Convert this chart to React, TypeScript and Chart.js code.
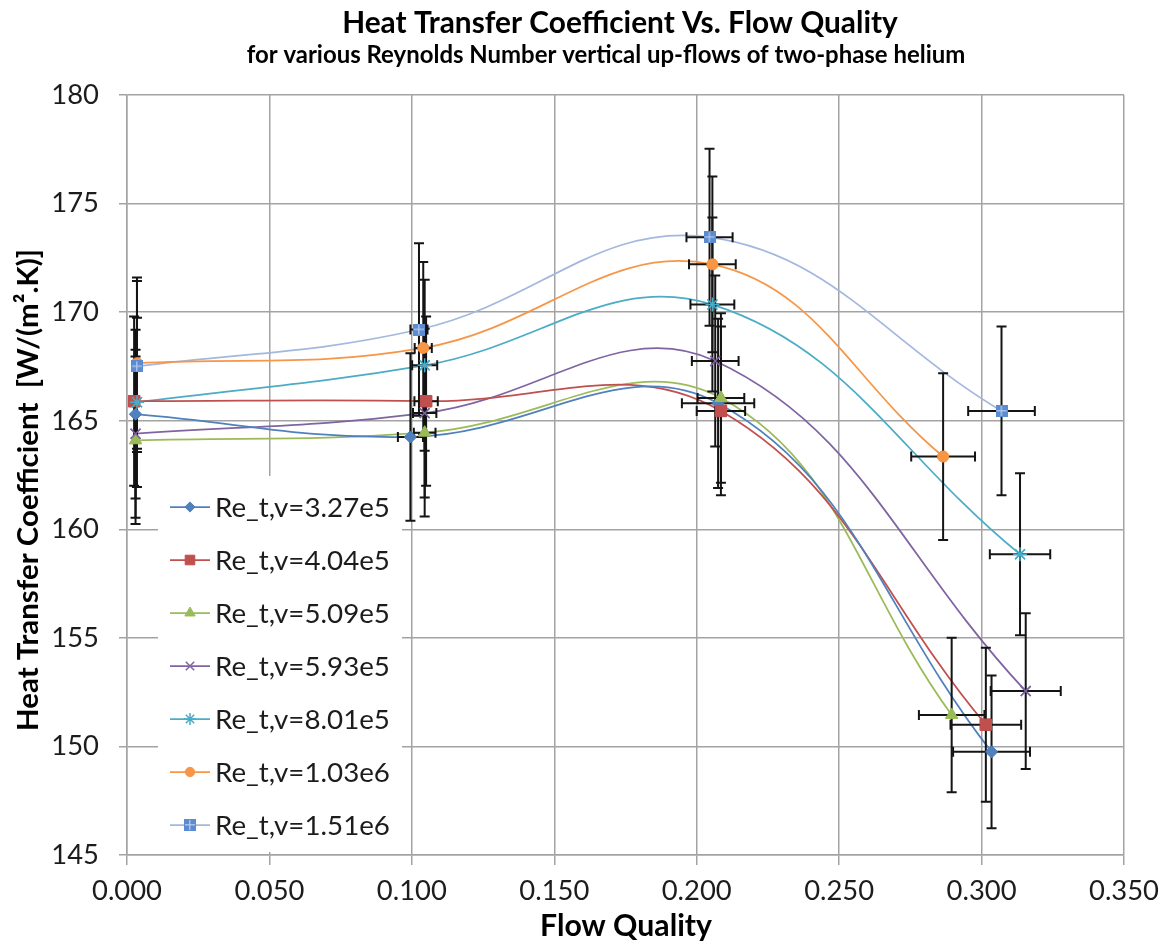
import React, { useEffect, useRef } from 'react';
import { Chart, registerables } from 'chart.js';
import { drawPoint } from 'chart.js/helpers';

Chart.register(...registerables);

// ---------------- data ----------------
const seriesLabels = [
  'Re_t,v=3.27e5',
  'Re_t,v=4.04e5',
  'Re_t,v=5.09e5',
  'Re_t,v=5.93e5',
  'Re_t,v=8.01e5',
  'Re_t,v=1.03e6',
  'Re_t,v=1.51e6',
];

const xRe327 = [0.003, 0.0995, 0.2075, 0.3035];
const yRe327 = [165.3, 164.25, 165.8, 149.75];
const exRe327 = [0.0001, 0.0044, 0.0127, 0.0135];

const xRe404 = [0.0025, 0.105, 0.2085, 0.3015];
const yRe404 = [165.9, 165.9, 165.45, 151.0];
const exRe404 = [0.0001, 0.0041, 0.0085, 0.0124];

const xRe509 = [0.003, 0.1045, 0.2085, 0.2895];
const yRe509 = [164.1, 164.45, 166.05, 151.45];
const exRe509 = [0.0001, 0.0038, 0.0082, 0.0115];

const xRe593 = [0.003, 0.1045, 0.2065, 0.3155];
const yRe593 = [164.4, 165.35, 167.75, 152.55];
const exRe593 = [0.0001, 0.0041, 0.0082, 0.0123];

const xRe801 = [0.0035, 0.1045, 0.2055, 0.3135];
const yRe801 = [165.85, 167.55, 170.35, 158.85];
const exRe801 = [0.0001, 0.0044, 0.0077, 0.0106];

const xRe103 = [0.0035, 0.104, 0.2055, 0.2865];
const yRe103 = [167.65, 168.35, 172.2, 163.35];
const exRe103 = [0.0001, 0.003, 0.0082, 0.0112];

const xRe151 = [0.0035, 0.1025, 0.2045, 0.307];
const yRe151 = [167.5, 169.2, 173.45, 165.45];
const exRe151 = [0.0001, 0.003, 0.0081, 0.0117];

const yErrFraction = 0.0235;

const xMin = 0;
const xMax = 0.35;
const xStep = 0.05;
const yMin = 145;
const yMax = 180;
const yStep = 5;

const titleText = 'Heat Transfer Coefficient Vs. Flow Quality';
const subtitleText = 'for various Reynolds Number vertical up-flows of two-phase helium';
const xTitleText = 'Flow Quality';
const yTitleText = 'Heat Transfer Coefficient  [W/(m\u00B2.K)]';

// ---------------- styles ----------------
const W = 1163;
const H = 947;
const FONT = 'Lato, "Open Sans", "DejaVu Sans", sans-serif';
const GRID = '#a3a3a3';
const TEXT = '#1c1c1c';

function makeSquareCross(size: number): HTMLCanvasElement {
  const c = document.createElement('canvas');
  c.width = size;
  c.height = size;
  const g = c.getContext('2d')!;
  g.fillStyle = '#5b8bd1';
  g.fillRect(0, 0, size, size);
  g.fillStyle = 'rgba(190,210,240,0.75)';
  const m = Math.floor(size / 2);
  g.fillRect(m - 1, 1, 1.5, size - 2);
  g.fillRect(1, m - 1, size - 2, 1.5);
  return c;
}

function fitSize(text: string, weight: string, target: number): number {
  const c = document.createElement('canvas').getContext('2d')!;
  c.font = `${weight} 100px ${FONT}`;
  return (100 * target) / c.measureText(text).width;
}

export default function App() {
  const ref = useRef<HTMLCanvasElement | null>(null);

  useEffect(() => {
    const canvas = ref.current;
    if (!canvas) return;

    const sqCross = makeSquareCross(12);
    const series = [
      { label: seriesLabels[0], xs: xRe327, ys: yRe327, ex: exRe327, color: '#4f81bd', line: '#4f81bd', style: 'rectRot', radius: 6, pbw: 1 },
      { label: seriesLabels[1], xs: xRe404, ys: yRe404, ex: exRe404, color: '#c0504d', line: '#c0504d', style: 'rect', radius: 8, pbw: 1 },
      { label: seriesLabels[2], xs: xRe509, ys: yRe509, ex: exRe509, color: '#9bbb59', line: '#9bbb59', style: 'triangle', radius: 7, pbw: 1 },
      { label: seriesLabels[3], xs: xRe593, ys: yRe593, ex: exRe593, color: '#8064a2', line: '#8064a2', style: 'crossRot', radius: 7, pbw: 1.5 },
      { label: seriesLabels[4], xs: xRe801, ys: yRe801, ex: exRe801, color: '#4bacc6', line: '#4bacc6', style: 'star', radius: 7, pbw: 1.5 },
      { label: seriesLabels[5], xs: xRe103, ys: yRe103, ex: exRe103, color: '#f79646', line: '#f79646', style: 'circle', radius: 5.5, pbw: 1 },
      { label: seriesLabels[6], xs: xRe151, ys: yRe151, ex: exRe151, color: '#5b8bd1', line: '#a3b8de', style: sqCross as any, radius: 6, pbw: 0 },
    ];

    const tickSize = fitSize('0.000', 'normal', 70);
    const titleSize = fitSize(titleText, 'bold', 556);
    const subSize = fitSize(subtitleText, 'bold', 719);
    const xTitleSize = fitSize(xTitleText, 'bold', 172);
    const yTitleSize = fitSize(yTitleText, 'bold', 482);
    const legendSize = fitSize(seriesLabels[0], 'normal', 175);

    const overlayPlugin = {
      id: 'overlay',
      afterDatasetsDraw(chart: any) {
        const { ctx } = chart;
        const xs = chart.scales.x;
        const ys = chart.scales.y;
        const CAP = 5;
        // error bars
        ctx.save();
        ctx.strokeStyle = '#141414';
        ctx.lineWidth = 2;
        series.forEach((s) => {
          s.xs.forEach((xv, i) => {
            const yv = s.ys[i];
            const ye = yv * yErrFraction;
            const xe = s.ex[i];
            const px = xs.getPixelForValue(xv);
            const py = ys.getPixelForValue(yv);
            const top = ys.getPixelForValue(yv + ye);
            const bot = ys.getPixelForValue(yv - ye);
            const l = xs.getPixelForValue(xv - xe);
            const r = xs.getPixelForValue(xv + xe);
            ctx.beginPath();
            ctx.moveTo(px, top);
            ctx.lineTo(px, bot);
            ctx.moveTo(px - CAP, top);
            ctx.lineTo(px + CAP, top);
            ctx.moveTo(px - CAP, bot);
            ctx.lineTo(px + CAP, bot);
            if (r - l > 3) {
              ctx.moveTo(l, py);
              ctx.lineTo(r, py);
              ctx.moveTo(l, py - CAP);
              ctx.lineTo(l, py + CAP);
              ctx.moveTo(r, py - CAP);
              ctx.lineTo(r, py + CAP);
            }
            ctx.stroke();
          });
        });
        ctx.restore();
        // markers on top of error bars
        chart.data.datasets.forEach((_d: any, i: number) => {
          const meta = chart.getDatasetMeta(i);
          meta.data.forEach((pt: any) => pt.draw(ctx, chart.chartArea));
        });

        // legend
        ctx.save();
        ctx.fillStyle = '#ffffff';
        ctx.fillRect(158, 476, 244, 376);
        const y0 = 507;
        const dy = 53;
        series.forEach((s, i) => {
          const ey = y0 + i * dy;
          ctx.strokeStyle = s.line;
          ctx.lineWidth = 1.75;
          ctx.beginPath();
          ctx.moveTo(170, ey);
          ctx.lineTo(210, ey);
          ctx.stroke();
          ctx.fillStyle = s.color;
          ctx.strokeStyle = s.color;
          ctx.lineWidth = s.pbw;
          drawPoint(ctx, { pointStyle: s.style, rotation: 0, radius: s.radius * 0.85, borderWidth: s.pbw } as any, 190, ey);
          ctx.fillStyle = TEXT;
          ctx.font = `normal ${legendSize}px ${FONT}`;
          ctx.textAlign = 'left';
          ctx.textBaseline = 'alphabetic';
          ctx.fillText(s.label, 215, ey + 0.36 * legendSize);
        });
        ctx.restore();
      },
      afterDraw(chart: any) {
        const { ctx } = chart;
        ctx.save();
        ctx.fillStyle = '#000000';
        ctx.textAlign = 'center';
        ctx.textBaseline = 'alphabetic';
        ctx.font = `bold ${titleSize}px ${FONT}`;
        ctx.fillText(titleText, 620, 33);
        ctx.font = `bold ${subSize}px ${FONT}`;
        ctx.fillText(subtitleText, 606, 63);
        ctx.font = `bold ${xTitleSize}px ${FONT}`;
        ctx.fillText(xTitleText, 626, 936);
        ctx.translate(38, 490);
        ctx.rotate(-Math.PI / 2);
        ctx.font = `bold ${yTitleSize}px ${FONT}`;
        ctx.fillText(yTitleText, 0, 0);
        ctx.restore();
      },
    };

    const chart = new Chart(canvas, {
      type: 'scatter',
      data: {
        datasets: series.map((s) => ({
          label: s.label,
          data: s.xs.map((x, i) => ({ x, y: s.ys[i] })),
          showLine: true,
          borderColor: s.line,
          backgroundColor: s.color,
          pointBackgroundColor: s.color,
          pointBorderColor: s.color,
          pointStyle: s.style as any,
          pointRadius: s.radius,
          pointBorderWidth: s.pbw,
          borderWidth: 1.75,
          tension: 0.4,
          fill: false,
        })),
      },
      options: {
        responsive: false,
        animation: false,
        events: [],
        layout: { autoPadding: false, padding: { left: 0, right: 39, top: 95, bottom: 0 } },
        plugins: {
          legend: { display: false },
          title: { display: false },
          tooltip: { enabled: false },
        },
        scales: {
          x: {
            type: 'linear',
            min: xMin,
            max: xMax,
            afterFit: (s: any) => {
              s.height = 92;
              s.paddingLeft = 0;
              s.paddingRight = 0;
            },
            ticks: {
              stepSize: xStep,
              callback: (v: any) => Number(v).toFixed(3),
              font: { family: FONT, size: tickSize },
              color: TEXT,
              padding: 10,
              maxRotation: 0,
              autoSkip: false,
            },
            grid: { color: GRID, lineWidth: 1.5, tickLength: 10, drawTicks: true },
            border: { color: GRID, width: 1.5 },
          },
          y: {
            type: 'linear',
            min: yMin,
            max: yMax,
            afterFit: (s: any) => {
              s.width = 127;
              s.paddingTop = 0;
              s.paddingBottom = 0;
            },
            ticks: {
              stepSize: yStep,
              font: { family: FONT, size: tickSize },
              color: TEXT,
              padding: 20,
              autoSkip: false,
            },
            grid: { color: GRID, lineWidth: 1.5, tickLength: 8, drawTicks: true },
            border: { color: GRID, width: 1.5 },
          },
        },
      },
      plugins: [overlayPlugin],
    });

    return () => {
      chart.destroy();
    };
  }, []);

  return (
    <div style={{ position: 'fixed', left: 0, top: 0, width: W, height: H, background: '#ffffff' }}>
      <canvas ref={ref} width={W} height={H} style={{ width: W, height: H, display: 'block' }} />
    </div>
  );
}
